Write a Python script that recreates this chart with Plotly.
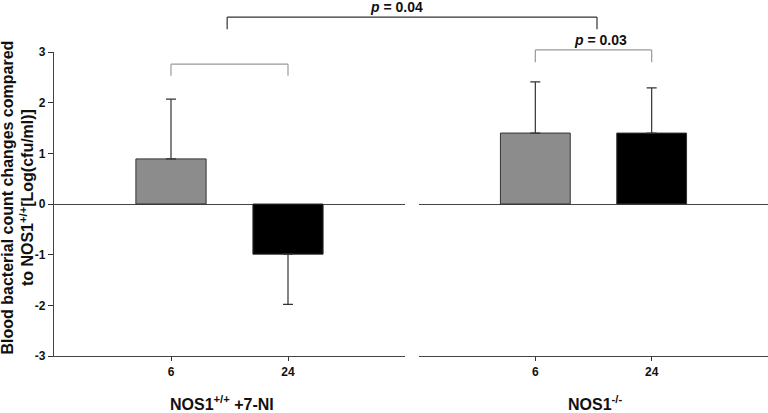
import plotly.graph_objects as go

# Data
time_labels = ['6', '24']
group_names = ['NOS1<sup>+/+</sup> +7-NI', 'NOS1<sup>-/-</sup>']
bar_colors = ['#8c8c8c', '#000000']

nos_ni_values = [0.89, -0.99]
nos_ni_err_up = [1.18, 0.0]
nos_ni_err_down = [0.0, 0.99]

nos_ko_values = [1.40, 1.40]
nos_ko_err_up = [1.01, 0.89]
nos_ko_err_down = [0.0, 0.0]

y_ticks = [-3, -2, -1, 0, 1, 2, 3]

FONT = 'Liberation Sans, Arial, sans-serif'
X_RANGE = [-1, 2]
Y_RANGE = [-3, 3]
LEFT_DOM = [0, 0.4916]
RIGHT_DOM = [0.5112, 1.0]


def xdom(i):
    # category position -> fraction of the x domain
    return (i - X_RANGE[0]) / (X_RANGE[1] - X_RANGE[0])


def ydom(v):
    return (v - Y_RANGE[0]) / (Y_RANGE[1] - Y_RANGE[0])


def xpaper(dom, i):
    return dom[0] + (dom[1] - dom[0]) * xdom(i)


def bar_trace(values, up, down, xaxis):
    return go.Bar(
        x=[0, 1],
        y=values,
        width=0.6,
        marker=dict(color=bar_colors, line=dict(color='#333333', width=1)),
        error_y=dict(type='data', symmetric=False, array=up, arrayminus=down,
                     color='#333333', thickness=1.2, width=5),
        xaxis=xaxis,
        yaxis='y',
        showlegend=False,
    )


fig = go.Figure()
fig.add_trace(bar_trace(nos_ni_values, nos_ni_err_up, nos_ni_err_down, 'x'))
fig.add_trace(bar_trace(nos_ko_values, nos_ko_err_up, nos_ko_err_down, 'x2'))


def line(x0, x1, y0, y1, color):
    fig.add_shape(type='line', xref='paper', yref='paper', x0=x0, x1=x1,
                  y0=ydom(y0), y1=ydom(y1), line=dict(color=color, width=1.2))


def bracket(x0, x1, y_top, y_leg, color):
    line(x0, x1, y_top, y_top, color)
    line(x0, x0, y_top, y_leg, color)
    line(x1, x1, y_top, y_leg, color)


# Significance brackets
bracket(xpaper(LEFT_DOM, 0), xpaper(LEFT_DOM, 1), 2.76, 2.53, '#999999')
bracket(xpaper(RIGHT_DOM, 0), xpaper(RIGHT_DOM, 1), 3.04, 2.80, '#999999')
bracket(xpaper(LEFT_DOM, 0.48), xpaper(RIGHT_DOM, 0.53), 3.69, 3.45, '#333333')

fig.add_annotation(text='<b><i>p</i> = 0.04</b>', xref='paper', yref='paper',
                   x=0.479, y=ydom(3.88), xanchor='center', yanchor='middle',
                   showarrow=False, font=dict(size=14, color='#111111', family=FONT))
fig.add_annotation(text='<b><i>p</i> = 0.03</b>', xref='paper', yref='paper',
                   x=xpaper(RIGHT_DOM, 0.56), y=ydom(3.23), xanchor='center', yanchor='middle',
                   showarrow=False, font=dict(size=14, color='#111111', family=FONT))

# y axis title as rotated annotation
fig.add_annotation(
    text='<b>Blood bacterial count changes compared<br>to NOS1<sup>+/+</sup>[Log(cfu/ml)]</b>',
    xref='paper', yref='paper', x=-0.051, y=0.52, textangle=-90,
    xanchor='center', yanchor='middle',
    showarrow=False, font=dict(size=16, color='#111111', family=FONT),
)

# group titles under each panel
for xpos, name in zip([0.235, 0.758], group_names):
    fig.add_annotation(text='<b>%s</b>' % name, xref='paper', yref='paper',
                       x=xpos, y=-0.155,
                       xanchor='center', yanchor='middle', showarrow=False,
                       font=dict(size=16, color='#111111', family=FONT))

axis_common = dict(
    range=X_RANGE,
    tickmode='array',
    tickvals=[0, 1],
    ticktext=['<b>%s</b>' % t for t in time_labels],
    ticks='outside', ticklen=4, tickcolor='#333333',
    showline=True, linecolor='#444444', linewidth=1.2,
    showgrid=False, zeroline=False,
    tickfont=dict(size=12, color='#111111', family=FONT),
    automargin=False,
    fixedrange=True,
)

fig.update_layout(
    width=768, height=413,
    margin=dict(l=54, r=0, t=52, b=57),
    paper_bgcolor='white', plot_bgcolor='white',
    xaxis=dict(domain=LEFT_DOM, anchor='y', **axis_common),
    xaxis2=dict(domain=RIGHT_DOM, anchor='y', **axis_common),
    yaxis=dict(
        range=Y_RANGE, tickvals=y_ticks,
        ticktext=['<b>%d</b>' % v for v in y_ticks],
        ticks='outside', ticklen=5, tickcolor='#333333',
        showline=True, linecolor='#444444', linewidth=1.2,
        showgrid=False, zeroline=True, zerolinecolor='#444444', zerolinewidth=1.2,
        tickfont=dict(size=12, color='#111111', family=FONT),
        automargin=False,
        fixedrange=True,
    ),
)

# drop the default page margin so the figure sits at the window's corner
fig.write_html("out.html", config={'displayModeBar': False},
               post_script="document.body.style.margin='0';")
